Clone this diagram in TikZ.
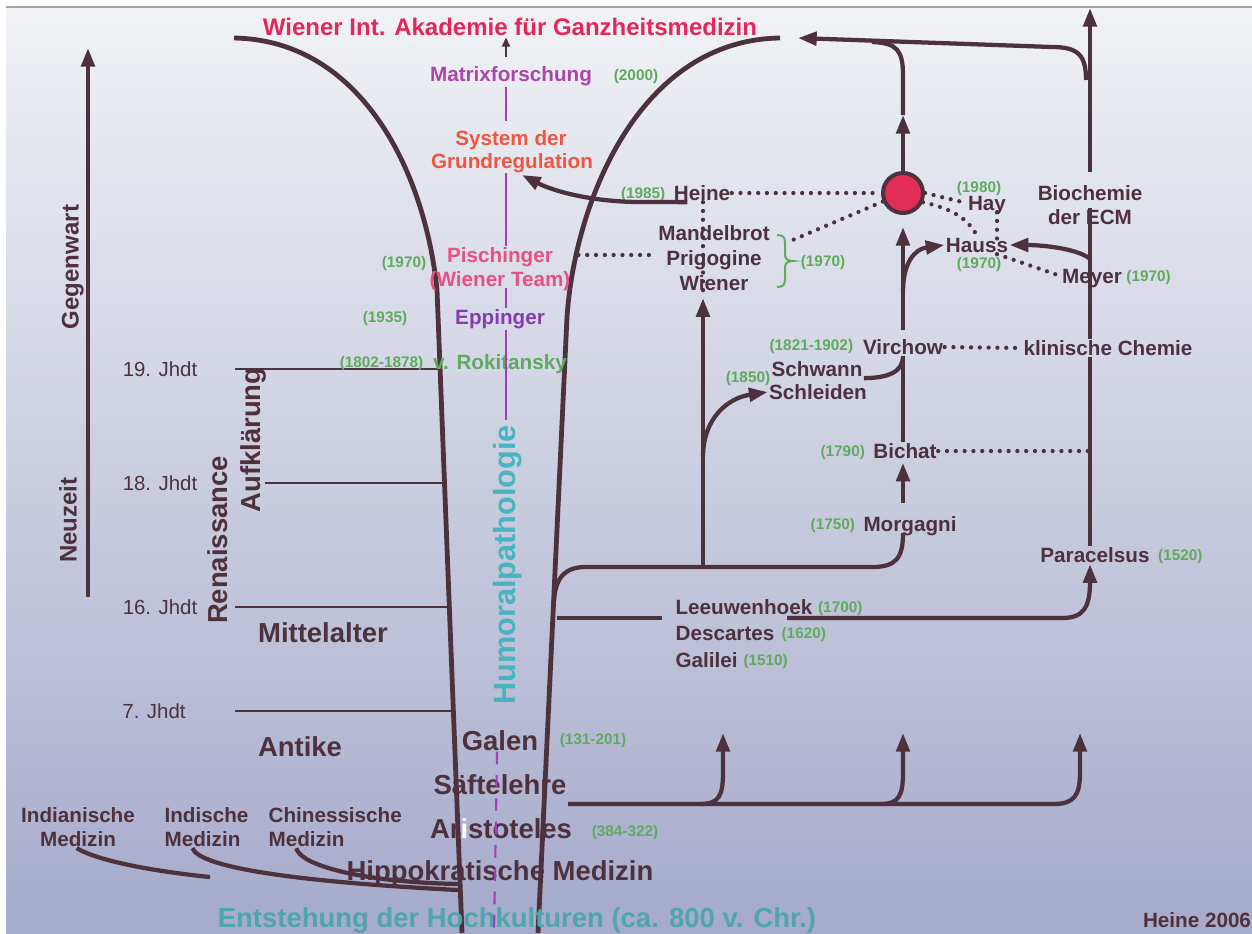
\documentclass[tikz,border=0pt]{standalone}
\usepackage{fontspec}
\setmainfont{Liberation Sans}
\usetikzlibrary{positioning,arrows.meta}
\definecolor{brn}{RGB}{77,50,62}
\definecolor{titel}{RGB}{224,40,90}
\definecolor{lila}{RGB}{170,70,170}
\definecolor{violett}{RGB}{130,60,180}
\definecolor{sgr}{RGB}{236,86,66}
\definecolor{pinkrot}{RGB}{232,80,130}
\definecolor{grn}{RGB}{96,170,96}
\definecolor{tuerkis}{RGB}{78,166,172}
\definecolor{humcol}{RGB}{72,180,192}
\definecolor{humlinie}{RGB}{160,64,180}
\definecolor{ball}{RGB}{226,46,86}
\definecolor{bgtop}{RGB}{240,242,245}
\definecolor{bgmid}{RGB}{206,214,228}
\definecolor{bgbot}{RGB}{166,170,203}

\begin{document}
\begin{tikzpicture}[x=0.75pt, y=-0.75pt, >={Triangle[width=10pt,length=14pt]},
	flow/.style={draw=brn, line width=3.2pt},
	funnel/.style={draw=brn, line width=3.6pt},
	jline/.style={draw=brn, line width=1.5pt},
	hline/.style={draw=humlinie, line width=1.6pt},
	dotline/.style={draw=brn, line width=3.2pt, line cap=round, dash pattern=on 0pt off 6.6pt},
	person/.style={font=\bfseries\fontsize{15.5}{18}\selectfont, text=brn, inner sep=1pt, text height=11.3pt, text depth=0pt},
	yr/.style={font=\bfseries\fontsize{11.5}{13}\selectfont, text=grn, inner sep=1pt, text height=8.4pt, text depth=0pt},
	era/.style={font=\bfseries\fontsize{20.6}{24}\selectfont, text=brn, inner sep=1pt, text height=15pt, text depth=0pt},
	axis/.style={font=\bfseries\fontsize{18}{20}\selectfont, text=brn, inner sep=1pt, text height=13.1pt, text depth=0pt},
	jhdt/.style={font=\fontsize{15.3}{18}\selectfont, text=brn, inner sep=1pt, text height=11.2pt, text depth=0pt},
	ballnode/.style={circle, fill=ball, draw=brn, line width=3pt, minimum size=30pt, inner sep=0pt}]
	% background
	\useasboundingbox (0,0) rectangle (1252,933);
	\fill[white] (0,0) rectangle (1252,933);
	\shade[top color=bgtop, middle color=bgmid, bottom color=bgbot] (6,7) rectangle (1252,933);
	\draw[gray!70, line width=0.8pt] (6,7) -- (1252,7);
	% columns
	\coordinate (hx) at (506,0);
	\coordinate (cA) at (703,0);
	\coordinate (cB) at (903,0);
	\coordinate (cC) at (1090,0);
	\coordinate (hx2) at (997,0);
	% funnel
	\draw[funnel] (234,38) .. controls (360,40) and (425,170) .. (437,290) -- (462,933);
	\draw[funnel] (780,38) .. controls (640,40) and (575,200) .. (567,317) -- (538,933);
	% time axis
	\draw[flow, ->] (88,597) -- (88,48);
	\node[axis, rotate=90] (gegenwart) at (70,267) {Gegenwart};
	\node[axis, rotate=90] (neuzeit) at (68,520) {Neuzeit};
	\node[jhdt] (j19) at (160,369) {19. Jhdt};
	\node[jhdt] (j18) at (160,483) {18. Jhdt};
	\node[jhdt] (j16) at (160,607) {16. Jhdt};
	\node[jhdt] (j7) at (154,711) {7. Jhdt};
	\draw[jline] (235,369) -- (441,369);
	\draw[jline] (265,483) -- (444,483);
	\draw[jline] (235,607) -- (449,607);
	\draw[jline] (235,711) -- (454,711);
	\node[era, rotate=90] (renaiss) at (217,540) {Renaissance};
	\node[era, rotate=90] (aufkl) at (250,440) {Aufklärung};
	\node[era] (mittel) at (323,632) {Mittelalter};
	\node[era] (antike) at (300,746) {Antike};

	% texts in the funnel
	\node[axis, text=titel] (akademie) at (510,27) {Wiener Int. Akademie für Ganzheitsmedizin};
	\node[person, text=lila] (matrix) at (511,74) {Matrixforschung};
	\node[yr] (y2000) at (636,75) {(2000)};
	\node[person, text=sgr] (system) at (511,138) {System der};
	\node[person, text=sgr] (grundreg) at (512,161) {Grundregulation};
	\node[person, text=pinkrot] (pisch) at (500,255) {Pischinger};
	\node[person, text=pinkrot] (team) at (500,279) {(Wiener Team)};
	\node[yr] (y1970a) at (404,262) {(1970)};
	\node[person, text=violett] (epping) at (500,317) {Eppinger};
	\node[yr] (y1935) at (385,317) {(1935)};
	\node[person, text=grn] (rokit) at (500,362) {v. Rokitansky};
	\node[yr, left=5pt of rokit] (y1802) {(1802-1878)};
	\node[era, font=\bfseries\fontsize{23}{26}\selectfont, text height=16.7pt, text=humcol, rotate=90] (humoral) at (504,565) {Humoralpathologie};
	\node[era] (galen) at (500,740) {Galen};
	\node[yr] (y131) at (593,739) {(131-201)};
	\node[era] (saefte) at (500,784) {Säftelehre};
	\node[era] (aristo) at (501,828) {Ar{\color{white}i}stoteles};
	\node[yr] (y384) at (625,831) {(384-322)};
	\node[era] (hippo) at (500,870) {Hippokratische Medizin};
	\node[era, text=tuerkis] (entst) at (517,917) {Entstehung der Hochkulturen (ca. 800 v. Chr.)};

	% humoral axis
	\draw[brn, line width=1.6pt, -{Triangle[width=6pt,length=7pt]}, shorten <=6pt] (hx |- matrix.north) -- (hx |- akademie.south);
	\draw[hline, shorten <=3pt, shorten >=6pt] (hx |- matrix.south) -- (hx |- system.north);
	\draw[hline, shorten <=2pt] (hx |- grundreg.south) -- (hx |- pisch.north);
	\draw[hline] (hx |- team.south) -- (hx |- epping.north);
	\draw[hline, shorten <=3pt, shorten >=3pt] (hx |- epping.south) -- (hx |- humoral.east);
	\draw[hline, dash pattern=on 9.5pt off 8pt] ([xshift=-2.2pt]galen.south) -- (494,933);

	% ancient medicine
	\node[person] (indian1) at (78,815) {Indianische};
	\node[person] (indian2) at (78,839) {Medizin};
	\node[person, anchor=west] (indisch1) at (163,815) {Indische};
	\node[person, anchor=west] (indisch2) at (163,839) {Medizin};
	\node[person, anchor=west] (chin1) at (267,815) {Chinessische};
	\node[person, anchor=west] (chin2) at (267,839) {Medizin};
	\coordinate (mzA) at (210,877);
	\coordinate (mzB) at (458,890);
	\coordinate (mzC) at (458,884);
	\draw[flow] ([xshift=-1pt]indian2.south) .. controls (100,862) and (160,872) .. (mzA);
	\draw[flow] ([xshift=22pt]indisch2.south west) .. controls (200,868) and (300,882) .. (mzB);
	\draw[flow] ([xshift=22pt]chin2.south west) .. controls (300,865) and (360,882) .. (mzC);

	% modern research
	\node[person] (heine) at (702,193) {Heine};
	\node[yr, left=4pt of heine] (y1985) {(1985)};
	\node[person] (mandel) at (714,233) {Mandelbrot};
	\node[person] (prigo) at (714,258) {Prigogine};
	\node[person] (wiener) at (714,283) {Wiener};
	\node[yr] (y1970b) at (823,261) {(1970)};
	\node[ballnode] (kreis) at (903,193) {};
	\node[person] (hay) at (987,203) {Hay};
	\node[yr] (y1980) at (979,187) {(1980)};
	\node[person] (hauss) at (977,245) {Hauss};
	\node[yr] (y1970c) at (979,263) {(1970)};
	\node[person] (biochem) at (1090,193) {Biochemie};
	\node[person] (ecm) at (1090,217) {der ECM};
	\node[person] (meyer) at (1092,276) {Meyer};
	\node[yr, right=1pt of meyer] (y1970d) {(1970)};
	\node[person] (virchow) at (903,347) {Virchow};
	\node[yr, left=5pt of virchow, yshift=1.5pt] (y1821) {(1821-1902)};
	\node[person] (klinchem) at (1108,348) {klinische Chemie};
	\node[person] (schwann) at (817,369) {Schwann};
	\node[person] (schleiden) at (818,392) {Schleiden};
	\node[yr] (y1850) at (748,377) {(1850)};
	\node[person] (bichat) at (905,451) {Bichat};
	\node[yr, left=4pt of bichat] (y1790) {(1790)};
	\node[person] (morgagni) at (910,524) {Morgagni};
	\node[yr, left=4pt of morgagni] (y1750) {(1750)};
	\node[person] (paracelsus) at (1095,555) {Paracelsus};
	\node[yr, right=4pt of paracelsus] (y1520) {(1520)};
	\node[person, anchor=west] (leeuw) at (674,607) {Leeuwenhoek};
	\node[yr, right=2pt of leeuw] (y1700) {(1700)};
	\node[person, anchor=west] (descartes) at (674,633) {Descartes};
	\node[yr, right=3pt of descartes] (y1620) {(1620)};
	\node[person, anchor=west] (galilei) at (674,660) {Galilei};
	\node[yr, right=2pt of galilei] (y1510) {(1510)};
	\node[person] (signatur) at (1197,920) {Heine 2006};

	% brace
	\draw[grn, line width=1.5pt] (777,235) .. controls (783,235) and (785,237) .. (785,243) -- (785,255) .. controls (785,259) and (788,261) .. (793,261) .. controls (788,261) and (785,263) .. (785,267) -- (785,279) .. controls (785,285) and (783,287) .. (777,287);
	\coordinate (braceTop) at (788,242);

	% dotted links
	\draw[dotline] ([xshift=18pt]pisch.east) -- ([xshift=-6pt]prigo.west |- pisch.east);
	\draw[dotline] (heine.east) -- (kreis.west);
	\draw[dotline] (cA |- heine.south) -- (cA |- wiener.south);
	\draw[dotline] (kreis.203) -- (braceTop);
	\draw[dotline] (kreis.east) -- (hay.west);
	\draw[dotline] (kreis.-25) .. controls (950,208) and (968,218) .. (hauss.north);
	\draw[dotline] (hx2 |- hay.south) -- (hx2 |- hauss.center);
	\draw[dotline] (hx2 |- hauss.south) -- (meyer.west);
	\draw[dotline] (virchow.east) -- (klinchem.west);
	\draw[dotline] (bichat.east) -- (bichat.east -| cC);

	% arrows
	\coordinate (sysTip) at (522,175);
	\coordinate (akTip) at (798,38);
	\coordinate (kTop) at (903,115);
	\coordinate (cCtop) at (1090,8);
	\coordinate (brStart) at (554,600);
	\coordinate (fork1) at (703,567);
	\coordinate (fork2) at (703,457);
	\coordinate (leeuL) at (557,618);
	\coordinate (saftL) at (568,804);
	\coordinate (upA) at (723,733);
	\coordinate (upB) at (903,733);
	\coordinate (upC) at (1080,733);
	\draw[flow, ->] ([xshift=-11pt]heine.south) -- (640,202) .. controls (595,202) and (555,192) .. (sysTip);
	\draw[flow, ->] (1086,80) .. controls (1086,55) and (1078,47) .. (1052,47) -- (akTip);
	\draw[flow, ->] (kreis.north) -- (kTop);
	\draw[flow] (kTop) -- (903,76) .. controls (903,50) and (897,43) .. (872,42);
	\draw[flow, ->, shorten <=9pt] (cC |- biochem.north) -- (cCtop);
	\draw[flow] (cC |- ecm.north) -- (cC |- klinchem.north);
	\draw[flow] (cC |- klinchem.south) -- (cC |- paracelsus.north);
	\draw[flow, ->] (1089,258) .. controls (1075,248) and (1040,245) .. (hauss.east);
	\draw[flow, ->, shorten <=6pt, shorten >=9pt] (cB |- virchow.north) -- (kreis.south);
	\draw[flow, ->] (903,292) .. controls (903,262) and (915,249) .. (hauss.west);
	\draw[flow] (schwann.south east) .. controls (888,378) and (903,372) .. (cB |- virchow.south);
	\draw[flow] (cB |- bichat.north) -- (cB |- virchow.south);
	\draw[flow, ->, shorten <=9pt, shorten >=2pt] (cB |- morgagni.north) -- (cB |- bichat.south);
	\draw[flow] (brStart) .. controls (556,576) and (566,567) .. (586,567) -- (872,567) .. controls (896,567) and (903,558) .. (cB |- morgagni.south);
	\draw[flow, ->, shorten >=4.5pt] (fork1) -- (cA |- wiener.south);
	\draw[flow, ->] (fork2) .. controls (703,418) and (728,398) .. (schleiden.west);
	\draw[flow] (leeuL) -- (662,618);
	\draw[flow, ->] (787,618) -- (1062,618) .. controls (1083,618) and (1090,608) .. (paracelsus.south -| cC);
	\draw[flow, ->] (saftL) -- (1053,804) .. controls (1074,804) and (1080,796) .. (1080,772) -- (upC);
	\draw[flow, ->] (700,804) .. controls (719,804) and (723,796) .. (723,772) -- (upA);
	\draw[flow, ->] (880,804) .. controls (899,804) and (903,796) .. (903,772) -- (upB);
\end{tikzpicture}
\end{document}
